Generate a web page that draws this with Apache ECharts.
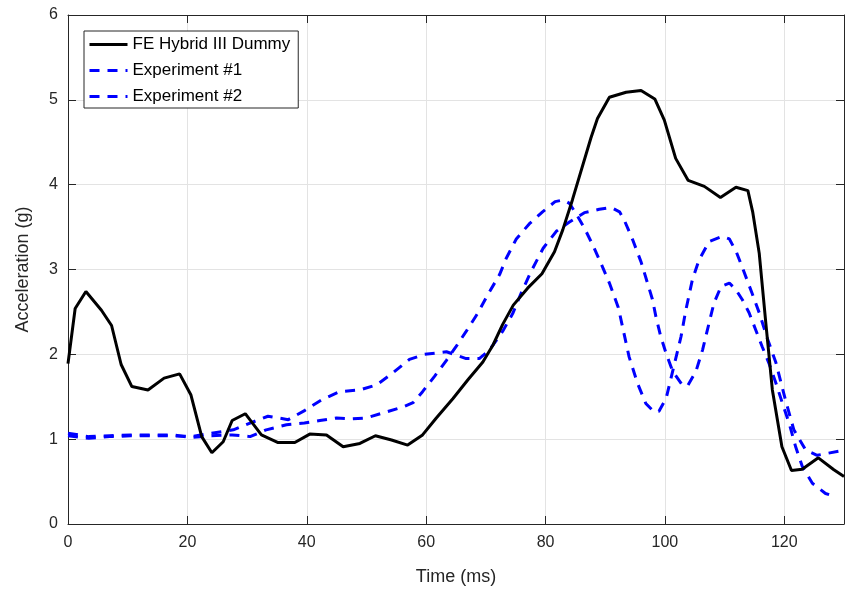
<!DOCTYPE html>
<html lang="en">
<head>
    <meta charset="UTF-8">
    <title>Acceleration</title>
    <style>
        html, body { margin: 0; padding: 0; background: #fff; }
    </style>
</head>
<body>
<div id="main" style="width: 847px;height:590px;"></div>
<script src="https://cdn.jsdelivr.net/npm/echarts@6/dist/echarts.min.js"></script>
<script>
    // time (ms), acceleration (g)
    var dummyT = [0, 1.2, 3, 5.6, 7.3, 8.9, 10.7, 13.4, 16.1, 18.7, 20.6, 22.4, 24.1, 26, 27.5, 29.7, 32.4, 35.2, 38, 40.5,
        43.3, 46.1, 48.9, 51.5, 54.2, 56.9, 59.4, 61.7, 64.5, 67, 69.5, 71.2, 72.8, 74.6, 77, 79.4, 81.5, 82.9, 84.5, 87.6,
        88.7, 90.7, 93.5, 96, 98.3, 99.9, 101.8, 103.9, 106.6, 109.3, 111.9, 113.9, 114.7, 115.8, 116.9, 118, 119.6, 121.2,
        123, 125.7, 128.3, 130];
    var dummyA = [1.89, 2.54, 2.74, 2.52, 2.34, 1.88, 1.62, 1.58, 1.72, 1.77, 1.52, 1.03, 0.84, 0.97, 1.22, 1.30, 1.05, 0.96, 0.96, 1.06,
        1.05, 0.91, 0.95, 1.04, 0.99, 0.93, 1.05, 1.25, 1.48, 1.70, 1.91, 2.11, 2.35, 2.58, 2.78, 2.95, 3.21, 3.47, 3.82, 4.55,
        4.78, 5.03, 5.09, 5.11, 5.01, 4.76, 4.31, 4.05, 3.98, 3.85, 3.97, 3.93, 3.68, 3.19, 2.37, 1.58, 0.91, 0.63,
        0.645, 0.78, 0.64, 0.56];

    var exp1T = [0, 3.5, 7, 10.5, 14, 17.5, 20.7, 24, 27.5, 30.5, 33.2, 36.6, 39.6, 42.2, 45, 47.5, 50, 52.8, 56.1, 57.8,
        59.4, 61.4, 63.4, 65, 66.7, 68.6, 70.3, 72.3, 73.4, 75.1, 77.3, 79.5, 81.6, 83, 84, 85.1, 86.5, 87.9, 89.3, 90.7,
        92.2, 94, 95.4, 96.8, 98.2, 99, 100.2, 101.6, 102.7, 103.5, 104.6, 105.7, 107.4, 109.6, 110.8, 112, 113.1, 114.6,
        115.8, 117.1, 118.6, 120.2, 121.6, 123.6, 125.5, 130];
    var exp1A = [1.07, 1.03, 1.04, 1.05, 1.05, 1.05, 1.02, 1.04, 1.05, 1.03, 1.11, 1.17, 1.19, 1.22, 1.25, 1.24, 1.25, 1.31, 1.38, 1.43,
        1.56, 1.74, 1.93, 2.09, 2.27, 2.48, 2.70, 2.94, 3.13, 3.36, 3.54, 3.68, 3.80, 3.82, 3.78, 3.66, 3.49, 3.29, 3.07, 2.84,
        2.55, 1.97, 1.66, 1.42, 1.32, 1.33, 1.48, 1.89, 2.21, 2.52, 2.88, 3.11, 3.33, 3.39, 3.36, 3.20, 3.00, 2.72,
        2.49, 2.20, 1.90, 1.46, 1.11, 0.87, 0.81, 0.87];

    var exp2T = [0, 3.5, 7, 10.5, 14, 17.5, 20.7, 24, 27.7, 30.5, 33.5, 36.9, 39.7, 42.4, 45.5, 48.9, 51.7, 54.4, 57.2, 59.7,
        63.4, 66.7, 68.9, 70.6, 72.8, 74.5, 75.9, 77.6, 79.6, 81.8, 84, 86.5, 89, 91, 92.4, 93.2, 94.6, 96, 97.9, 98.5,
        99.3, 100.2, 101.3, 102.9, 103.8, 105.2, 106.3, 107.4, 108.2, 109.4, 110.8, 111.9, 113, 114.1, 115.2, 116.3, 117.4,
        118.6, 119.7, 120.8, 121.9, 123, 124.7, 126.9, 128.6];
    var exp2A = [1.04, 1.01, 1.03, 1.04, 1.04, 1.04, 1.03, 1.07, 1.11, 1.19, 1.27, 1.23, 1.34, 1.46, 1.56, 1.58, 1.64, 1.78, 1.94, 2.00,
        2.03, 1.95, 1.95, 2.05, 2.27, 2.48, 2.72, 2.98, 3.25, 3.45, 3.56, 3.67, 3.71, 3.73, 3.68, 3.58, 3.35, 3.09, 2.65, 2.44,
        2.21, 2.01, 1.80, 1.64, 1.63, 1.80, 2.05, 2.37, 2.60, 2.80, 2.84, 2.76, 2.64, 2.49, 2.29, 2.09, 1.90,
        1.66, 1.42, 1.19, 0.91, 0.68, 0.48, 0.36, 0.32];

    function pairs(t, a) {
        var out = [];
        for (var i = 0; i < t.length; i++) {
            out.push([t[i], a[i]]);
        }
        return out;
    }

    var fontFam = 'Liberation Sans, Arial, Helvetica, sans-serif';
    var axisColor = '#262626';
    var gridColor = '#e3e3e3';

    var myChart = echarts.init(document.getElementById('main'));

    var option = {
        animation: false,
        backgroundColor: '#fff',
        textStyle: { fontFamily: fontFam },
        grid: {
            left: 68,
            right: 3,
            top: 15,
            bottom: 66,
            outerBoundsMode: 'none'
        },
        legend: {
            orient: 'vertical',
            left: 84,
            top: 31,
            padding: [5, 8, 3, 4],
            backgroundColor: '#fff',
            borderColor: axisColor,
            borderWidth: 1,
            borderRadius: 0,
            itemWidth: 38,
            itemHeight: 14,
            itemGap: 9,
            // hide the marker dot, keep only the line sample
            itemStyle: { opacity: 0 },
            lineStyle: { width: 3 },
            textStyle: { fontSize: 17, color: '#000', fontFamily: fontFam },
            data: ['FE Hybrid III Dummy', 'Experiment #1', 'Experiment #2']
        },
        xAxis: [
            {
                type: 'value',
                min: 0,
                max: 130,
                interval: 20,
                name: 'Time (ms)',
                nameLocation: 'middle',
                nameGap: 44,
                nameTextStyle: { fontSize: 18, color: axisColor, fontFamily: fontFam },
                axisLine: { show: true, lineStyle: { color: axisColor, width: 1 } },
                axisTick: { show: true, inside: true, length: 8, lineStyle: { color: axisColor } },
                axisLabel: { fontSize: 16, color: axisColor, margin: 11, showMaxLabel: false, fontFamily: fontFam },
                splitLine: { show: true, lineStyle: { color: gridColor, width: 1 } }
            },
            {
                type: 'value',
                position: 'top',
                min: 0,
                max: 130,
                interval: 20,
                axisLine: { show: true, onZero: false, lineStyle: { color: axisColor, width: 1 } },
                axisTick: { show: true, inside: true, length: 8, lineStyle: { color: axisColor } },
                axisLabel: { show: false },
                splitLine: { show: false }
            }
        ],
        yAxis: [
            {
                type: 'value',
                min: 0,
                max: 6,
                interval: 1,
                name: 'Acceleration (g)',
                nameLocation: 'middle',
                nameGap: 36,
                nameTextStyle: { fontSize: 18, color: axisColor, fontFamily: fontFam },
                axisLine: { show: true, lineStyle: { color: axisColor, width: 1 } },
                axisTick: { show: true, inside: true, length: 8, lineStyle: { color: axisColor } },
                axisLabel: { fontSize: 16, color: axisColor, margin: 10, fontFamily: fontFam },
                splitLine: { show: true, lineStyle: { color: gridColor, width: 1 } }
            },
            {
                type: 'value',
                position: 'right',
                min: 0,
                max: 6,
                interval: 1,
                axisLine: { show: true, onZero: false, lineStyle: { color: axisColor, width: 1 } },
                axisTick: { show: true, inside: true, length: 8, lineStyle: { color: axisColor } },
                axisLabel: { show: false },
                splitLine: { show: false }
            }
        ],
        series: [
            {
                name: 'FE Hybrid III Dummy',
                type: 'line',
                data: pairs(dummyT, dummyA),
                symbol: 'none',
                color: '#000',
                lineStyle: { color: '#000', width: 3 },
                z: 3
            },
            {
                name: 'Experiment #1',
                type: 'line',
                data: pairs(exp1T, exp1A),
                symbol: 'none',
                color: '#0000ff',
                lineStyle: { color: '#0000ff', width: 3, type: [10, 8] },
                z: 2
            },
            {
                name: 'Experiment #2',
                type: 'line',
                data: pairs(exp2T, exp2A),
                symbol: 'none',
                color: '#0000ff',
                lineStyle: { color: '#0000ff', width: 3, type: [10, 8] },
                z: 2
            }
        ]
    };

    myChart.setOption(option);
</script>
</body>
</html>
